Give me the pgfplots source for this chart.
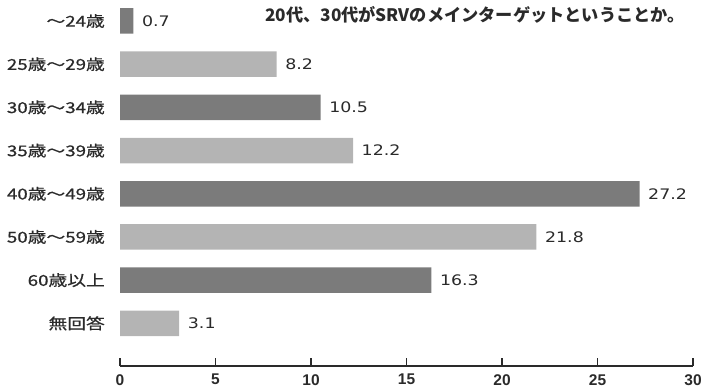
\documentclass[border=0pt]{standalone}
\usepackage{pgfplots}
\pgfplotsset{compat=1.18}
\usepackage{fontspec}
\setmainfont{Liberation Sans}
\newfontfamily\jp[FakeStretch=1.25, FakeBold=0.6]{Noto Sans CJK JP}
\newfontfamily\jptitle{Noto Sans CJK JP}
\newfontfamily\valfont[FakeStretch=1.2]{DejaVu Sans}
\definecolor{darkbar}{HTML}{7B7B7B}
\definecolor{lightbar}{HTML}{B4B4B4}
\definecolor{ink}{HTML}{2A2A2A}

\begin{document}
\begin{tikzpicture}[x=1bp,y=1bp]
\useasboundingbox (0,0) rectangle (705,390);
% heading line
\node[anchor=west, inner sep=0, text=ink, font=\jptitle\bfseries\fontsize{17.2bp}{19bp}\selectfont]
  at (265,375) {20代、30代がSRVのメインターゲットということか。};
\begin{axis}[
  at={(120bp,24bp)}, anchor=south west,
  scale only axis, width=573bp, height=366bp,
  xmin=0, xmax=30, ymin=-0.988, ymax=7.486,
  axis x line=bottom, axis y line*=left,
  axis line style={-, draw=ink, line width=1.1bp},
  y axis line style={draw=none},
  xtick={0,5,...,30},
  tick align=inside, major tick length=8bp,
  x tick style={draw=ink, line width=1.1bp},
  ytick={0,...,7},
  y tick style={draw=none},
  yticklabels={無回答,60歳以上,50歳～59歳,40歳～49歳,35歳～39歳,30歳～34歳,25歳～29歳,～24歳},
  yticklabel style={font=\jp\fontsize{15bp}{17bp}\selectfont, text=ink, anchor=east, inner sep=0pt, xshift=-15bp},
  xticklabel style={font=\bfseries\fontsize{15.5bp}{17bp}\selectfont, text=ink, inner sep=0pt, yshift=-8bp},
  /pgf/number format/assume math mode=true,
  clip=false,
  point meta=x,
  nodes near coords={\pgfmathprintnumber[fixed, fixed zerofill, precision=1]{\pgfplotspointmeta}},
  nodes near coords style={font=\valfont\fontsize{14.5bp}{16bp}\selectfont, text=ink, anchor=west, inner sep=0pt, xshift=8.5bp},
]
% age groups in alternating shades
\addplot[xbar, bar width=25.5bp, bar shift=0pt, fill=darkbar, draw=none]
  coordinates {(0.7,7) (10.5,5) (27.2,3) (16.3,1)};
\addplot[xbar, bar width=25.5bp, bar shift=0pt, fill=lightbar, draw=none]
  coordinates {(8.2,6) (12.2,4) (21.8,2) (3.1,0)};
\end{axis}
\end{tikzpicture}
\end{document}
